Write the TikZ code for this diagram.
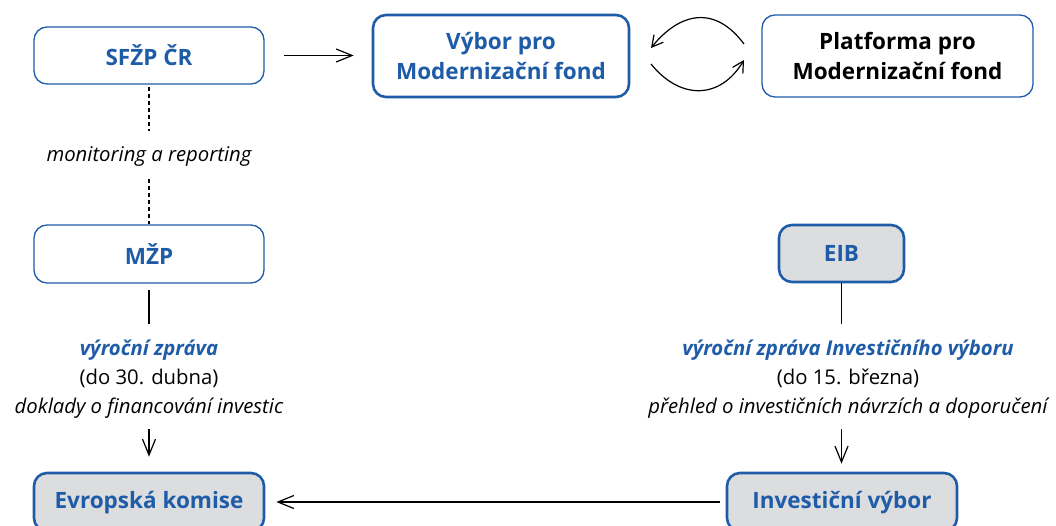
\documentclass[tikz,border=0pt]{standalone}
\usepackage{fontspec}
\setmainfont{Open Sans}
\usetikzlibrary{arrows.meta}
\definecolor{mfblue}{HTML}{1F5CA8}
\definecolor{mfgray}{HTML}{DCDDDF}
\begin{document}
\begin{tikzpicture}[x=1pt,y=-1pt,
  box/.style={draw=mfblue, rounded corners=13pt, line width=1.3pt, fill=white,
    minimum width=230pt, minimum height=57pt, align=center, inner sep=0pt,
    text=mfblue, font=\fontsize{22.5}{30}\selectfont\bfseries},
  thickbox/.style={box, line width=2.6pt},
  graybox/.style={thickbox, fill=mfgray},
  lbl/.style={inner sep=0pt, anchor=base, font=\fontsize{20.3}{24}\selectfont},
  conn/.style={line width=1.2pt, black},
  arr/.style={conn, -{Straight Barb[length=16pt,width=13pt]}},
  carr/.style={conn, -{Straight Barb[length=11pt,width=12pt]}},
  dsh/.style={conn, dash pattern=on 4pt off 3pt}
]
\useasboundingbox (0,0) rectangle (1056,526);
\clip (0,0) rectangle (1056,526);

% boxes
\node[box] (sfzp) at (149,55.5) {SFŽP ČR};
\node[thickbox, minimum width=256pt, minimum height=82pt] (vybor) at (501,56) {Výbor pro\\Modernizační fond};
\node[box, minimum width=271pt, minimum height=82pt, text=black] (plat) at (897.5,56) {Platforma pro\\Modernizační fond};
\node[box, minimum height=58pt] (mzp) at (149,254) {MŽP};
\node[graybox, minimum width=125pt] (eib) at (841.5,253.5) {EIB};
\node[graybox, minimum height=58pt] (ek) at (149,502) {};
\node[graybox, minimum height=58pt] (iv) at (842,502) {};
\node[text=mfblue, font=\fontsize{22.5}{30}\selectfont\bfseries] (ekt) at (149,503) {Evropská komise};
\node[text=mfblue, font=\fontsize{22.5}{30}\selectfont\bfseries] (ivt) at (842,503) {Investiční výbor};

% labels
\node[lbl, font=\fontsize{20.3}{24}\selectfont\itshape] (mon) at (149,162) {monitoring a reporting};
\node[lbl, text=mfblue, font=\fontsize{20.3}{24}\selectfont\bfseries\itshape] (t1a) at (149,355) {výroční zpráva};
\node[lbl] (t1b) at (149,384) {(do 30. dubna)};
\node[lbl, font=\fontsize{20.3}{24}\selectfont\itshape] (t1c) at (149,413) {doklady o financování investic};
\node[lbl, text=mfblue, font=\fontsize{20.3}{24}\selectfont\bfseries\itshape] (t2a) at (848,355) {výroční zpráva Investičního výboru};
\node[lbl] (t2b) at (848,384) {(do 15. března)};
\node[lbl, font=\fontsize{20.3}{24}\selectfont\itshape] (t2c) at (848,413) {přehled o investičních návrzích a doporučení};

% connectors
\draw[arr, shorten <=19pt, shorten >=18pt] (sfzp.east) -- (sfzp.east -| vybor.west);
\coordinate (cu1) at (744,44);
\coordinate (cu2) at (651,48);
\coordinate (cl1) at (651,64);
\coordinate (cl2) at (744,60);
\draw[carr] (cu1) .. controls (715,5) and (680,12) .. (cu2);
\draw[carr] (cl1) .. controls (680,100) and (720,100) .. (cl2);

\coordinate (d1) at (mon.north -| sfzp.south);
\coordinate (d2) at (mon.south -| sfzp.south);
\draw[dsh, shorten <=2pt, shorten >=16pt] (sfzp.south) -- (d1);
\draw[dsh, shorten <=12pt] (d2) -- (mzp.north);

\coordinate (l1) at (t1a.north -| mzp.south);
\coordinate (l2) at (t1c.south -| ek.north);
\draw[conn, shorten <=6pt, shorten >=15pt] (mzp.south) -- (l1);
\draw[arr, shorten <=11pt, shorten >=15pt] (l2) -- (ek.north);

\coordinate (r1) at (t2a.north -| eib.south);
\coordinate (r2) at (t2c.south -| eib.south);
\coordinate (r3) at (iv.north -| eib.south);
\draw[conn, shorten >=15pt] (eib.south) -- (r1);
\draw[arr, shorten <=11pt, shorten >=8pt] (r2) -- (r3);

\draw[arr, shorten <=6pt, shorten >=11pt] (iv.west) -- (ek.east);
\end{tikzpicture}
\end{document}
